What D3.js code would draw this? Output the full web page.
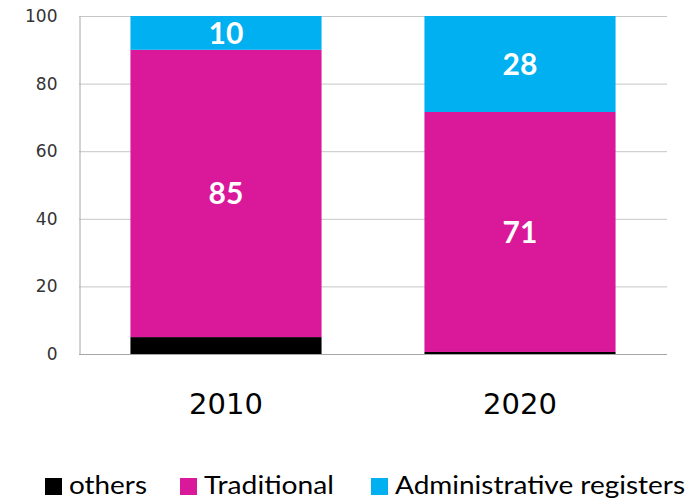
<!DOCTYPE html>
<html>
<head>
<meta charset="utf-8">
<script src="https://cdnjs.cloudflare.com/ajax/libs/d3/7.8.5/d3.min.js"></script>
<style>
  body { margin: 0; background: #fff; }
  svg { display: block; }
</style>
</head>
<body>
<script>
// Chart data
var years = ["2010", "2020"];
var series = ["others", "Traditional", "Administrative registers"];
var others = [5, 0.6];
var traditional = [85, 71];
var adminRegisters = [10, 28.4];
var yTicks = [0, 20, 40, 60, 80, 100];

var colors = ["#000000", "#D9199A", "#00B0F0"];

// Width and height of svg
var w = 692;
var h = 500;

var svg = d3.select("body").append("svg")
    .attr("width", w)
    .attr("height", h);

var x = d3.scaleBand()
    .domain(years)
    .range([79, 667])
    .paddingInner(0.35)
    .paddingOuter(0.175);

var y = d3.scaleLinear()
    .domain([0, 100])
    .range([354, 16]);

// Gridlines
svg.append("g")
    .selectAll("line")
    .data(yTicks.slice(1))
    .enter().append("line")
    .attr("x1", 79)
    .attr("x2", 667)
    .attr("y1", function(d) { return y(d) + 0.5; })
    .attr("y2", function(d) { return y(d) + 0.5; })
    .attr("stroke", "#C6C6C6")
    .attr("stroke-width", 1);

// Stack the segments
var table = years.map(function(yr, i) {
    return { year: yr, others: others[i], Traditional: traditional[i], "Administrative registers": adminRegisters[i] };
});
var stacked = d3.stack().keys(series)(table);

var layers = svg.append("g")
    .selectAll("g")
    .data(stacked)
    .enter().append("g")
    .attr("fill", function(d, i) { return colors[i]; });

layers.selectAll("rect")
    .data(function(d) { return d; })
    .enter().append("rect")
    .attr("x", function(d) { return x(d.data.year); })
    .attr("width", x.bandwidth())
    .attr("y", function(d) { return y(d[1]); })
    .attr("height", function(d) { return y(d[0]) - y(d[1]); });

// Value labels inside Traditional and Administrative segments
stacked.slice(1).forEach(function(layer) {
    svg.append("g")
        .selectAll("text")
        .data(layer)
        .enter().append("text")
        .attr("x", function(d) { return x(d.data.year) + x.bandwidth() / 2; })
        .attr("y", function(d) { return (y(d[0]) + y(d[1])) / 2; })
        .attr("dy", "0.36em")
        .attr("text-anchor", "middle")
        .attr("fill", "#fff")
        .attr("font-family", "Lato, 'Open Sans', sans-serif")
        .attr("font-weight", "bold")
        .attr("font-size", 30)
        .text(function(d) { return d3.format(".0f")(d[1] - d[0]); });
});

// Y axis
var yAxis = svg.append("g")
    .attr("transform", "translate(79.5,0)")
    .call(d3.axisLeft(y).tickValues(yTicks).tickSize(0).tickPadding(22));
yAxis.select(".domain").attr("stroke", "#A6A6A6");
yAxis.selectAll("text")
    .attr("font-family", "'DejaVu Sans', Verdana, sans-serif")
    .attr("font-size", 17)
    .attr("fill", "#333");

// Bottom baseline
svg.append("line")
    .attr("x1", 79)
    .attr("x2", 667)
    .attr("y1", 354.5)
    .attr("y2", 354.5)
    .attr("stroke", "#A6A6A6");

// Category labels
svg.append("g")
    .selectAll("text")
    .data(years)
    .enter().append("text")
    .attr("x", function(d) { return x(d) + x.bandwidth() / 2; })
    .attr("y", 414)
    .attr("text-anchor", "middle")
    .attr("font-family", "'DejaVu Sans', Verdana, sans-serif")
    .attr("font-size", 29)
    .attr("fill", "#000")
    .text(function(d) { return d; });

// Legend
var legendX = [45, 180, 371];
var legendW = [78, 130, 290];
var legend = svg.append("g")
    .selectAll("g")
    .data(series)
    .enter().append("g")
    .attr("transform", function(d, i) { return "translate(" + legendX[i] + ",0)"; });

legend.append("rect")
    .attr("x", 0)
    .attr("y", 478)
    .attr("width", 17)
    .attr("height", 17)
    .attr("fill", function(d, i) { return colors[i]; });

legend.append("text")
    .attr("x", 24)
    .attr("y", 494)
    .attr("font-family", "Lato, sans-serif")
    .attr("font-size", 25)
    .attr("fill", "#000")
    .attr("textLength", function(d, i) { return legendW[i]; })
    .attr("lengthAdjust", "spacingAndGlyphs")
    .text(function(d) { return d; });
</script>
</body>
</html>
